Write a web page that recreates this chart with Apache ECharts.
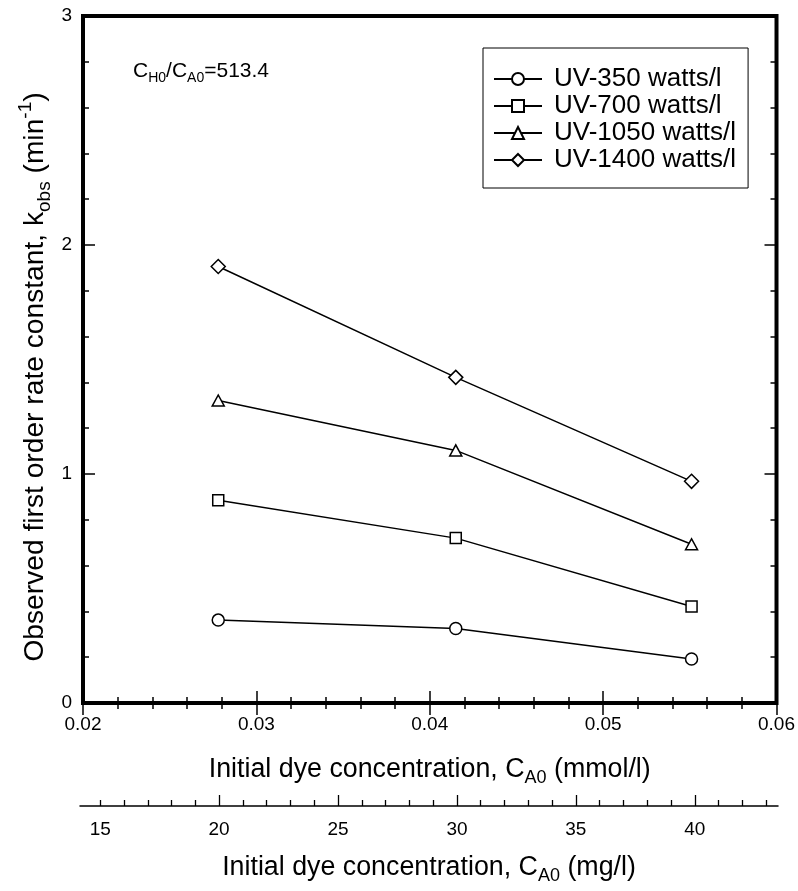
<!DOCTYPE html>
<html><head><meta charset="utf-8">
<script src="https://cdn.jsdelivr.net/npm/echarts@6/dist/echarts.min.js"></script>
<style>html,body{margin:0;padding:0;background:#fff}#c{width:798px;height:891px}</style>
</head><body><div id="c"></div>
<script>
// ---- data ----
const xMmol = [0.0278, 0.0415, 0.0551];
const uv350 = [0.362, 0.325, 0.192];
const uv700 = [0.885, 0.720, 0.421];
const uv1050 = [1.321, 1.103, 0.693];
const uv1400 = [1.906, 1.422, 0.968];
const seriesNames = ['UV-350 watts/l', 'UV-700 watts/l', 'UV-1050 watts/l', 'UV-1400 watts/l'];
const mmolTickLabels = ['0.02', '0.03', '0.04', '0.05', '0.06'];
const kTickLabels = ['0', '1', '2', '3'];
const mgLabelValues = [15, 20, 25, 30, 35, 40];
const mgMajorTicks = [20, 25, 30, 35, 40];
const mgMinorTicks = [15, 16, 17, 18, 19, 21, 22, 23, 24, 26, 27, 28, 29, 31, 32, 33, 34, 36, 37, 38, 39, 41, 42, 43];

// ---- styling ----
const FONT = "'Liberation Sans', Arial, Helvetica, sans-serif";
const symbols = ['circle', 'rect', 'triangle', 'diamond'];
const symbolSizes = [12, 11, [12, 11], 14];
const allValues = [uv350, uv700, uv1050, uv1400];

const chart = echarts.init(document.getElementById('c'), null, {renderer: 'canvas'});

function subRich(size) {
  return {
    sub: {fontSize: size, fontFamily: FONT, color: '#000', verticalAlign: 'bottom', height: 9},
    sup: {fontSize: size, fontFamily: FONT, color: '#000', verticalAlign: 'top', height: 9}
  };
}

function mainXAxis(pos, showLabel) {
  return {
    type: 'value', gridIndex: 0, position: pos,
    min: 0.02, max: 0.06, interval: 0.01,
    axisLine: {show: false},
    axisTick: {show: true, inside: true, length: 12, lineStyle: {color: '#000', width: 1.5}},
    minorTick: {show: true, splitNumber: 5, length: 6, lineStyle: {color: '#000', width: 1.5}},
    splitLine: {show: false}, minorSplitLine: {show: false},
    axisLabel: {show: showLabel, color: '#000', fontSize: 19, fontFamily: FONT, margin: 12,
      formatter: v => mmolTickLabels[Math.round((v - 0.02) / 0.01)] || ''},
  };
}
function mainYAxis(pos, showLabel) {
  return {
    type: 'value', gridIndex: 0, position: pos,
    min: 0, max: 3, interval: 1,
    axisLine: {show: false},
    axisTick: {show: true, inside: true, length: 12, lineStyle: {color: '#000', width: 1.5}},
    minorTick: {show: true, splitNumber: 5, length: 6, lineStyle: {color: '#000', width: 1.5}},
    splitLine: {show: false}, minorSplitLine: {show: false},
    axisLabel: {show: showLabel, color: '#000', fontSize: 19, fontFamily: FONT, margin: 11,
      formatter: v => kTickLabels[Math.round(v)] || ''},
  };
}

const xA = mainXAxis('bottom', true);
xA.name = 'Initial dye concentration, C{sub|A0} (mmol/l)';
xA.nameLocation = 'middle';
xA.nameGap = 53;
xA.nameTextStyle = {fontSize: 26.8, fontFamily: FONT, color: '#000', rich: subRich(18)};

const option = {
  animation: false,
  backgroundColor: '#fff',
  textStyle: {fontFamily: FONT},
  grid: [
    {left: 83, right: 17, top: 16, bottom: 188, show: true, borderColor: '#000', borderWidth: 4, backgroundColor: 'transparent'},
    {left: 80, right: 20, top: 796, height: 10},
    {left: 80, right: 20, top: 796, height: 10}
  ],
  xAxis: [
    xA,
    mainXAxis('top', false),
    {
      type: 'value', gridIndex: 1, position: 'bottom', min: 14.15, max: 43.5,
      axisLine: {show: true, onZero: false, lineStyle: {color: '#000', width: 1.5}},
      axisTick: {show: true, inside: true, length: 6, customValues: mgMinorTicks, lineStyle: {color: '#000', width: 1.3}},
      axisLabel: {show: false}, splitLine: {show: false}
    },
    {
      type: 'value', gridIndex: 2, position: 'bottom', min: 14.15, max: 43.5,
      axisLine: {show: false, onZero: false},
      axisTick: {show: true, inside: true, length: 11, customValues: mgMajorTicks, lineStyle: {color: '#000', width: 1.3}},
      axisLabel: {show: true, customValues: mgLabelValues, color: '#000', fontSize: 19, fontFamily: FONT, margin: 14},
      splitLine: {show: false},
      name: 'Initial dye concentration, C{sub|A0} (mg/l)',
      nameLocation: 'middle', nameGap: 48,
      nameTextStyle: {fontSize: 26.8, fontFamily: FONT, color: '#000', rich: subRich(18)}
    }
  ],
  yAxis: [
    mainYAxis('left', true),
    mainYAxis('right', false),
    {type: 'value', gridIndex: 1, show: false, min: 0, max: 1},
    {type: 'value', gridIndex: 2, show: false, min: 0, max: 1}
  ],
  legend: {
    orient: 'vertical', left: 483, top: 48,
    padding: [18, 12, 15, 10],
    itemWidth: 48, itemHeight: 15, itemGap: 1,
    borderColor: '#000', borderWidth: 1, backgroundColor: '#fff',
    data: seriesNames,
    formatter: n => '{t|' + n + '}',
    textStyle: {color: '#000', fontSize: 26, fontFamily: FONT,
      rich: {t: {fontSize: 26, fontFamily: FONT, color: '#000', padding: [0, 0, 0, 7]}}}
  },
  graphic: [
    {
      type: 'text', x: 35, y: 377, rotation: Math.PI / 2,
      style: {
        text: 'Observed first order rate constant, k{sub|obs} (min{sup|-1})',
        fontSize: 28.2, fontFamily: FONT, fill: '#000', align: 'center', verticalAlign: 'middle',
        rich: subRich(19)
      }
    },
    {
      type: 'text', x: 133, y: 71,
      style: {
        text: 'C{s|H0}/C{s|A0}=513.4',
        fontSize: 21, fontFamily: FONT, fill: '#000', align: 'left', verticalAlign: 'middle',
        rich: {s: {fontSize: 14, fontFamily: FONT, fill: '#000', verticalAlign: 'bottom', height: 7}}
      }
    }
  ],
  series: seriesNames.map((n, i) => ({
    type: 'line', name: n, xAxisIndex: 0, yAxisIndex: 0,
    data: xMmol.map((x, j) => [x, allValues[i][j]]),
    symbol: symbols[i], symbolSize: symbolSizes[i], showSymbol: true,
    lineStyle: {color: '#000', width: 1.5},
    itemStyle: {color: '#fff', borderColor: '#000', borderWidth: 1.5},
    emphasis: {disabled: true}
  }))
};
chart.setOption(option);
</script>
</body></html>
